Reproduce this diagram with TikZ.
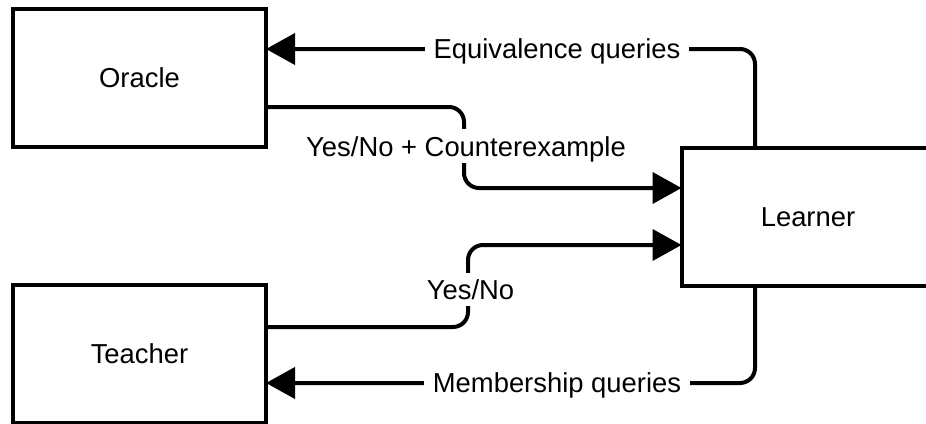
\documentclass[tikz,border=0pt]{standalone}
\usepackage{fontspec}
\setmainfont{Liberation Sans}
\usetikzlibrary{arrows.meta}

\tikzset{
  box/.style={draw=black, line width=4pt, fill=white, inner sep=0pt, outer sep=0pt,
    minimum width=253pt, minimum height=137.5pt,
    font=\fontsize{27.4}{33}\selectfont},
  conn/.style={draw=black, line width=4pt, rounded corners=15pt,
    -{Triangle[length=29pt,width=31pt]}},
  plain/.style={draw=black, line width=4pt, rounded corners=15pt},
  lbl/.style={fill=white, inner xsep=9pt, inner ysep=7pt, anchor=base,
    text height=19.6pt, text depth=0pt,
    font=\fontsize{27.4}{33}\selectfont}
}

\begin{document}
\begin{tikzpicture}[x=1pt, y=-1pt]
  \useasboundingbox (0,0) rectangle (926,423);

  % the three parties
  \node[box] (oracle)  at (139.5,77.75)  {Oracle};
  \node[box] (teacher) at (139.5,354)    {Teacher};
  \node[box] (learner) at (808,216.75)   {Learner};

  % routing coordinates
  \coordinate (eqx)  at (755,49);
  \coordinate (midA) at (464,107);
  \coordinate (ya)   at (0,188);
  \coordinate (midB) at (468,327);
  \coordinate (yb)   at (0,245);
  \coordinate (mq)   at (0,383);

  % equivalence queries: learner -> oracle
  \draw[conn] (learner.north -| eqx) |- (oracle.east |- eqx);
  % answer with counterexample: oracle -> learner
  \draw[conn] (oracle.east |- midA) -| (midA |- ya) -- (learner.west |- ya);
  % membership answer: teacher -> learner
  \draw[conn] (teacher.east |- midB) -| (midB |- yb) -- (learner.west |- yb);
  % membership queries: learner -> teacher
  \draw[conn] (learner.south -| eqx) |- (teacher.east |- mq);

  % connector labels
  \node[lbl] (lEq)  at (557,58.3)  {Equivalence queries};
  \node[lbl] (lCex) at (466,156)   {Yes/No + Counterexample};
  \node[lbl] (lYN)  at (470.5,299.3) {Yes/No};
  \node[lbl] (lMem) at (557,392.3) {Membership queries};
\end{tikzpicture}
\end{document}
